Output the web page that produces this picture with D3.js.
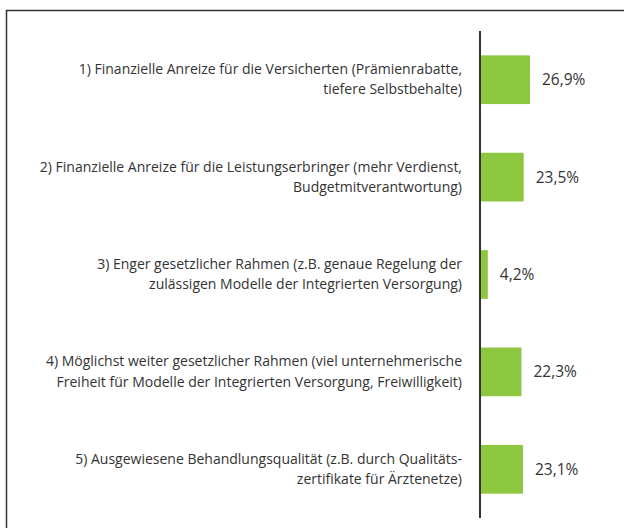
<!DOCTYPE html>
<html>
<head>
<meta charset="utf-8">
<script src="https://cdn.jsdelivr.net/npm/d3@7"></script>
<style>
  body { margin: 0; background: #fff; }
  svg { display: block; }
  text { font-family: "Open Sans", sans-serif; fill: #333; font-variant-ligatures: none; }
</style>
</head>
<body>
<div id="chart"></div>
<script>
// data
var categories = ["1", "2", "3", "4", "5"];
var labelLines = [
  ["1) Finanzielle Anreize für die Versicherten (Prämienrabatte,", "tiefere Selbstbehalte)"],
  ["2) Finanzielle Anreize für die Leistungserbringer (mehr Verdienst,", "Budgetmitverantwortung)"],
  ["3) Enger gesetzlicher Rahmen (z.B. genaue Regelung der", "zulässigen Modelle der Integrierten Versorgung)"],
  ["4) Möglichst weiter gesetzlicher Rahmen (viel unternehmerische", "Freiheit für Modelle der Integrierten Versorgung, Freiwilligkeit)"],
  ["5) Ausgewiesene Behandlungsqualität (z.B. durch Qualitäts-", "zertifikate für Ärztenetze)"]
];
var values = [26.9, 23.5, 4.2, 22.3, 23.1];
var valueLabels = ["26,9%", "23,5%", "4,2%", "22,3%", "23,1%"];

var w = 624;
var h = 528;
var axisX = 480;

var svg = d3.select("#chart").append("svg")
  .attr("width", w)
  .attr("height", h);

// frame (open to right and bottom)
svg.append("path")
  .attr("d", "M6.5," + h + "V10.5H" + w)
  .attr("fill", "none")
  .attr("stroke", "#333")
  .attr("stroke-width", 1.5);

var xScale = d3.scaleLinear()
  .domain([0, 26.9])
  .range([axisX, 530]);

var yScale = d3.scaleBand()
  .domain(categories)
  .range([31, 518])
  .paddingInner(0.5)
  .paddingOuter(0.25);

// bars
svg.selectAll("rect.bar")
  .data(values)
  .enter()
  .append("rect")
  .attr("class", "bar")
  .attr("x", xScale(0))
  .attr("y", function(d, i) { return yScale(categories[i]) })
  .attr("width", function(d) { return xScale(d) - xScale(0) })
  .attr("height", yScale.bandwidth())
  .attr("fill", "#8dc63f");

// axis line
svg.append("line")
  .attr("x1", axisX)
  .attr("x2", axisX)
  .attr("y1", yScale.range()[0])
  .attr("y2", yScale.range()[1])
  .attr("stroke", "#333")
  .attr("stroke-width", 2);

// value labels
svg.selectAll("text.value")
  .data(valueLabels)
  .enter()
  .append("text")
  .attr("class", "value")
  .attr("x", function(d, i) { return xScale(values[i]) + 12 })
  .attr("y", function(d, i) { return yScale(categories[i]) + yScale.bandwidth() / 2 })
  .attr("dy", "0.35em")
  .style("font-size", "15.5px")
  .text(function(d) { return d });

// category labels, two lines each
var labels = svg.selectAll("text.cat")
  .data(labelLines)
  .enter()
  .append("text")
  .attr("class", "cat")
  .attr("x", 462)
  .attr("y", function(d, i) { return yScale(categories[i]) + yScale.bandwidth() / 2 })
  .style("text-anchor", "end")
  .style("font-size", "14px");

labels.selectAll("tspan")
  .data(function(d) { return d })
  .enter()
  .append("tspan")
  .attr("x", 462)
  .attr("dy", function(d, i) { return i == 0 ? "-0.4em" : "1.45em" })
  .text(function(d) { return d });
</script>
</body>
</html>
